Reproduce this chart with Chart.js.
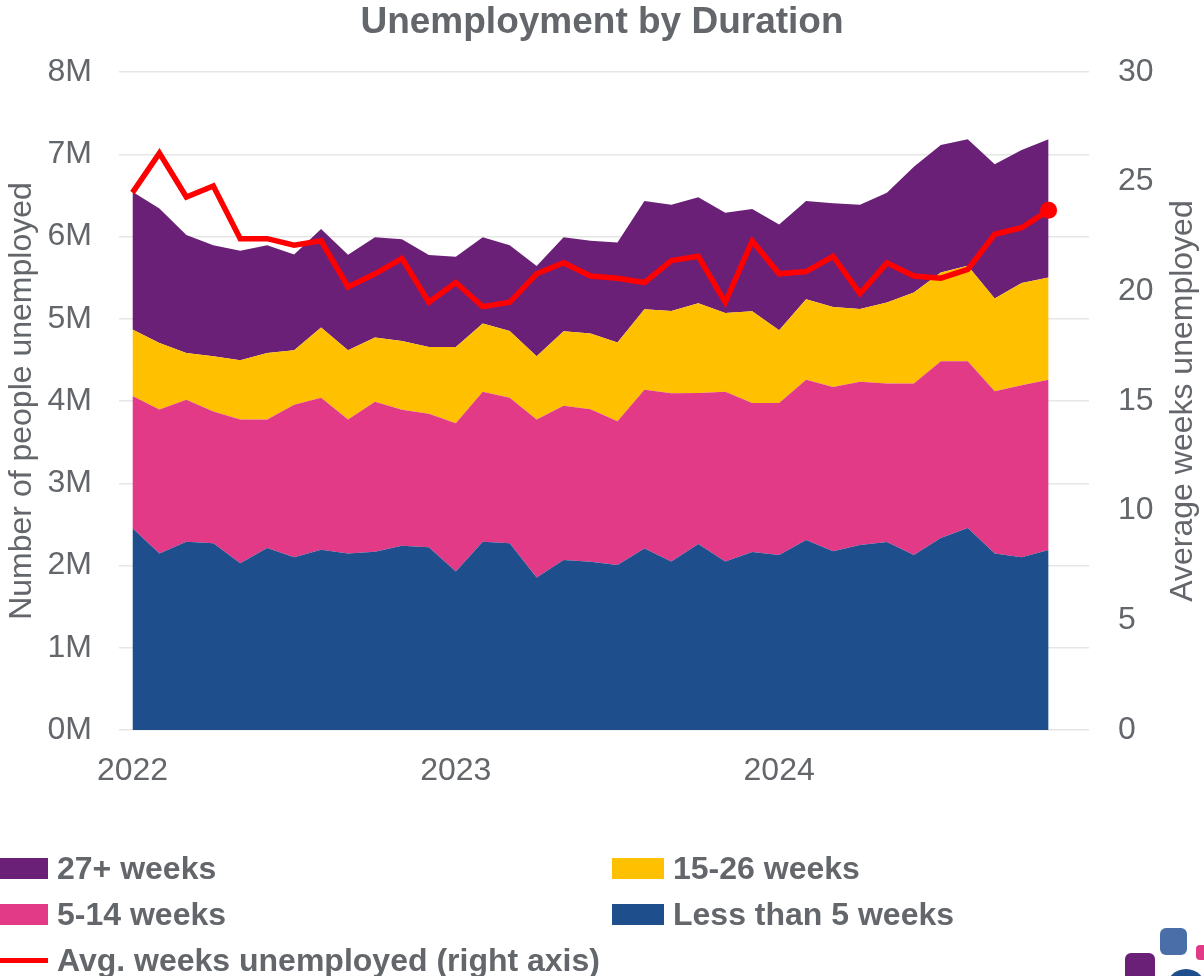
<!DOCTYPE html>
<html>
<head>
<meta charset="utf-8">
<title>Unemployment by Duration</title>
<script src="https://cdn.jsdelivr.net/npm/chart.js@4.4.1/dist/chart.umd.min.js"></script>
<style>
  html, body { margin: 0; padding: 0; background: #fff; overflow: hidden; }
  #wrap { position: relative; width: 1204px; height: 976px; overflow: hidden; }
  #legend { position: absolute; left: 0; top: 0; width: 1204px; height: 976px; pointer-events: none;
            font: bold 32px "Liberation Sans", Arial, sans-serif; color: #63666a; }
  .item { position: absolute; display: flex; align-items: center; height: 40px; white-space: nowrap; }
  .swatch { width: 52px; height: 21px; margin-right: 9px; flex: none; }
  .stroke { width: 52px; height: 5px; margin-right: 9px; flex: none; }
  .logo { position: absolute; border-radius: 6px; }
</style>
</head>
<body>
<div id="wrap">
  <canvas id="durationChart" width="1204" height="976"></canvas>
  <div id="legend"></div>
  <div class="logo" style="left:1160px; top:928px; width:27px; height:27px; background:#4a6fa8;"></div>
  <div class="logo" style="left:1196px; top:945px; width:14px; height:15px; background:#e23a87; border-radius:4px;"></div>
  <div class="logo" style="left:1125px; top:953px; width:30px; height:40px; background:#6b2077;"></div>
  <div class="logo" style="left:1166px; top:969px; width:40px; height:40px; background:#1f4e8c; border-radius:50%;"></div>
</div>
<script>
// Unemployment by Duration, Jan 2022 - Nov 2024 (millions of people)
const years = ['2022', '2023', '2024'];
const months = ['Jan', 'Feb', 'Mar', 'Apr', 'May', 'Jun', 'Jul', 'Aug', 'Sep', 'Oct', 'Nov', 'Dec'];
const categories = years.flatMap(y => months.map(m => m + ' ' + y));

const lessThan5Weeks = [2.452, 2.147, 2.290, 2.269, 2.026, 2.213, 2.099, 2.192, 2.147, 2.168, 2.241, 2.221,
                        1.928, 2.290, 2.269, 1.855, 2.067, 2.046, 2.006, 2.208, 2.050, 2.262, 2.050, 2.164,
                        2.128, 2.311, 2.172, 2.250, 2.286, 2.128, 2.335, 2.457, 2.147, 2.099, 2.189];
const weeks5to14 = [1.608, 1.751, 1.726, 1.604, 1.750, 1.563, 1.856, 1.848, 1.629, 1.823, 1.653, 1.624,
                    1.803, 1.823, 1.771, 1.921, 1.876, 1.854, 1.749, 1.929, 2.043, 1.835, 2.063, 1.811,
                    1.847, 1.948, 1.998, 1.985, 1.928, 2.086, 2.147, 2.025, 1.973, 2.091, 2.070];
const weeks15to26 = [0.808, 0.808, 0.568, 0.670, 0.718, 0.808, 0.661, 0.853, 0.840, 0.780, 0.836, 0.812,
                     0.926, 0.828, 0.811, 0.767, 0.905, 0.920, 0.955, 0.979, 1.002, 1.092, 0.958, 1.116,
                     0.885, 0.978, 0.974, 0.885, 0.983, 1.105, 1.080, 1.161, 1.126, 1.246, 1.243];
const weeks27plus = [1.676, 1.634, 1.433, 1.352, 1.332, 1.311, 1.164, 1.197, 1.161, 1.219, 1.238, 1.117,
                     1.096, 1.049, 1.044, 1.097, 1.142, 1.128, 1.218, 1.315, 1.291, 1.287, 1.218, 1.243,
                     1.287, 1.194, 1.259, 1.266, 1.335, 1.530, 1.551, 1.539, 1.632, 1.616, 1.680];
const avgWeeks = [24.5, 26.3, 24.3, 24.8, 22.4, 22.4, 22.1, 22.3, 20.2, 20.8, 21.5, 19.5,
                  20.4, 19.3, 19.5, 20.8, 21.3, 20.7, 20.6, 20.4, 21.4, 21.6, 19.5, 22.3,
                  20.8, 20.9, 21.6, 19.9, 21.3, 20.7, 20.6, 21.0, 22.6, 22.9, 23.7];

const textGrey = '#63666a';
const fontFamily = '"Liberation Sans", Arial, sans-serif';

function area(label, data, color, fill) {
  return {
    label, data, fill,
    backgroundColor: color,
    borderColor: color,
    borderWidth: 0,
    pointRadius: 0,
    pointHoverRadius: 0,
    tension: 0,
    yAxisID: 'y',
    order: 1,
  };
}

// right axis title reads bottom-to-top, which Chart.js doesn't do for right axes
const rightAxisTitle = {
  id: 'rightAxisTitle',
  afterDraw(chart) {
    const {ctx, chartArea, scales} = chart;
    ctx.save();
    ctx.translate(scales.y1.right - 21, (chartArea.top + chartArea.bottom) / 2);
    ctx.rotate(-Math.PI / 2);
    ctx.font = '32px ' + fontFamily;
    ctx.fillStyle = textGrey;
    ctx.textAlign = 'center';
    ctx.textBaseline = 'middle';
    ctx.fillText('Average weeks unemployed', 0, 0);
    ctx.restore();
  }
};

const ctx = document.getElementById('durationChart');
const chart = new Chart(ctx, {
  type: 'line',
  data: {
    labels: categories,
    datasets: [
      area('Less than 5 weeks', lessThan5Weeks, '#1f4e8c', 'origin'),
      area('5-14 weeks', weeks5to14, '#e23a87', '-1'),
      area('15-26 weeks', weeks15to26, '#ffc000', '-1'),
      area('27+ weeks', weeks27plus, '#6b2077', '-1'),
      {
        label: 'Avg. weeks unemployed (right axis)',
        data: avgWeeks,
        yAxisID: 'y1',
        fill: false,
        borderColor: '#ff0000',
        backgroundColor: '#ff0000',
        borderWidth: 5.5,
        tension: 0,
        pointRadius: c => c.dataIndex === avgWeeks.length - 1 ? 8.5 : 0,
        pointBorderWidth: 0,
        order: 0,
      },
    ]
  },
  options: {
    responsive: false,
    animation: false,
    layout: {
      padding: {top: 0, left: 0, right: 0, bottom: 163.6},
    },
    scales: {
      x: {
        type: 'category',
        offset: true,
        grid: {display: false, drawTicks: false},
        border: {display: false},
        ticks: {
          autoSkip: false,
          maxRotation: 0,
          minRotation: 0,
          padding: 22,
          color: textGrey,
          font: {size: 32, family: fontFamily},
          callback: (value, index) => index % 12 === 0 ? years[index / 12] : '',
        },
      },
      y: {
        position: 'left',
        stacked: true,
        min: 0,
        max: 8,
        grid: {color: '#e6e6e6', lineWidth: 1.5, drawTicks: false},
        border: {display: false},
        ticks: {
          stepSize: 1,
          padding: 27,
          color: textGrey,
          font: {size: 32, family: fontFamily},
          callback: v => v + 'M',
        },
        title: {
          display: true,
          text: 'Number of people unemployed',
          color: textGrey,
          font: {size: 32, family: fontFamily},
          padding: {top: 3, bottom: 0},
        },
        afterFit: s => { s.width = 119; },
      },
      y1: {
        position: 'right',
        min: 0,
        max: 30,
        grid: {display: false, drawTicks: false},
        border: {display: false},
        ticks: {
          stepSize: 5,
          padding: 29,
          color: textGrey,
          font: {size: 32, family: fontFamily},
        },
        afterFit: s => { s.width = 115; },
      },
    },
    plugins: {
      legend: {display: false},
      tooltip: {enabled: false},
      title: {
        display: true,
        text: 'Unemployment by Duration',
        color: textGrey,
        font: {size: 37, weight: 'bold', family: fontFamily},
        padding: {top: 1, bottom: 26.6},
      },
    },
  },
  plugins: [rightAxisTitle],
});

// legend: two columns, read row by row
const legendOrder = [3, 2, 1, 0, 4];
const legendEl = document.getElementById('legend');
legendOrder.forEach((dsIndex, i) => {
  const ds = chart.data.datasets[dsIndex];
  const item = document.createElement('div');
  item.className = 'item';
  item.style.left = (i % 2 === 0 ? -4 : 612) + 'px';
  item.style.top = (868 - 20 + Math.floor(i / 2) * 46) + 'px';
  const mark = document.createElement('span');
  mark.className = ds.yAxisID === 'y1' ? 'stroke' : 'swatch';
  mark.style.background = ds.borderColor;
  const text = document.createElement('span');
  text.textContent = ds.label;
  item.appendChild(mark);
  item.appendChild(text);
  legendEl.appendChild(item);
});
</script>
</body>
</html>
